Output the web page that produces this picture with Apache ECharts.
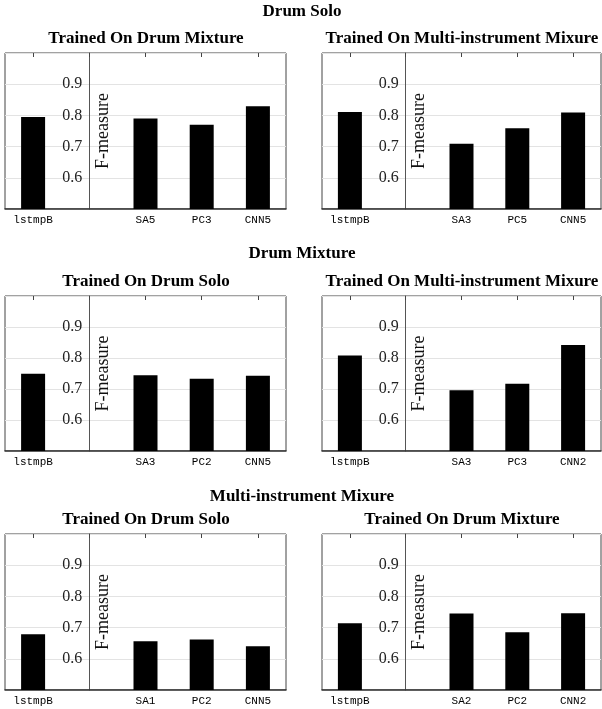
<!DOCTYPE html>
<html>
<head>
<meta charset="utf-8">
<script src="https://cdn.jsdelivr.net/npm/echarts@6/dist/echarts.min.js"></script>
<style>
  html, body { margin: 0; padding: 0; background: #fff; }
  #main { width: 602px; height: 709px; }
</style>
</head>
<body>
<div id="main"></div>
<script>
// data
var groupTitles = ['Drum Solo', 'Drum Mixture', 'Multi-instrument Mixure'];
var panelTitles = [
  'Trained On Drum Mixture', 'Trained On Multi-instrument Mixure',
  'Trained On Drum Solo', 'Trained On Multi-instrument Mixure',
  'Trained On Drum Solo', 'Trained On Drum Mixture'
];
var catsSoloOnMix   = ['lstmpB', '', 'SA5', 'PC3', 'CNN5'];
var catsSoloOnMulti = ['lstmpB', '', 'SA3', 'PC5', 'CNN5'];
var catsMixOnSolo   = ['lstmpB', '', 'SA3', 'PC2', 'CNN5'];
var catsMixOnMulti  = ['lstmpB', '', 'SA3', 'PC3', 'CNN2'];
var catsMultiOnSolo = ['lstmpB', '', 'SA1', 'PC2', 'CNN5'];
var catsMultiOnMix  = ['lstmpB', '', 'SA2', 'PC2', 'CNN2'];

var valsSoloOnMix   = [0.795, null, 0.790, 0.770, 0.829];
var valsSoloOnMulti = [0.811, null, 0.709, 0.759, 0.809];
var valsMixOnSolo   = [0.749, null, 0.744, 0.733, 0.743];
var valsMixOnMulti  = [0.808, null, 0.696, 0.717, 0.842];
var valsMultiOnSolo = [0.679, null, 0.656, 0.662, 0.640];
var valsMultiOnMix  = [0.714, null, 0.745, 0.685, 0.746];

var yTickLabels = ['0.6', '0.7', '0.8', '0.9'];

var panelCats = [catsSoloOnMix, catsSoloOnMulti, catsMixOnSolo, catsMixOnMulti, catsMultiOnSolo, catsMultiOnMix];
var panelVals = [valsSoloOnMix, valsSoloOnMulti, valsMixOnSolo, valsMixOnMulti, valsMultiOnSolo, valsMultiOnMix];

var chart = echarts.init(document.getElementById('main'));

var rowTop = [53, 296, 534];
var rowH = [156, 155, 156];
var colLeft = [5, 322];
var colW = [281, 279];
var groupY = [12, 254, 497];
var subY = [39, 282, 520];
var subX = [146, 462];

var serif = '"Liberation Serif", "DejaVu Serif", serif';
var mono = '"Liberation Mono", "DejaVu Sans Mono", monospace';

var grids = [], xAxes = [], yAxes = [], series = [], texts = [];

for (var r = 0; r < 3; r++) {
  texts.push({
    type: 'text', x: 302, y: groupY[r],
    style: { text: groupTitles[r], font: 'bold 17px ' + serif, fill: '#000', textAlign: 'center', textVerticalAlign: 'middle' }
  });
  for (var c = 0; c < 2; c++) {
    var i = r * 2 + c;
    texts.push({
      type: 'text', x: subX[c], y: subY[r],
      style: { text: panelTitles[i], font: 'bold 17px ' + serif, fill: '#000', textAlign: 'center', textVerticalAlign: 'middle' }
    });
    grids.push({
      left: colLeft[c], top: rowTop[r], width: colW[c], height: rowH[r],
      show: true, borderColor: '#444', borderWidth: 1, backgroundColor: 'transparent'
    });
    // bottom category axis with labels
    xAxes.push({
      type: 'category', gridIndex: i, position: 'bottom', data: panelCats[i],
      axisLine: { lineStyle: { color: '#333', width: 1.5 } },
      axisTick: { show: false },
      axisLabel: { color: '#000', fontFamily: mono, fontSize: 11, margin: 6, interval: 0 },
      splitLine: { show: false }
    });
    // top axis only for inward ticks
    xAxes.push({
      type: 'category', gridIndex: i, position: 'top', data: panelCats[i],
      axisLine: { show: false },
      axisTick: { show: true, inside: true, alignWithLabel: true, length: 4, lineStyle: { color: '#444' } },
      axisLabel: { show: false }
    });
    yAxes.push({
      type: 'value', gridIndex: i, min: 0.5, max: 1.0, interval: 0.1,
      offset: -(colW[c] / 5) * 1.5,
      name: 'F-measure', nameLocation: 'middle', nameRotate: 90, nameGap: -23,
      nameTextStyle: { fontFamily: serif, fontSize: 18, color: '#111' },
      axisLine: { show: true, lineStyle: { color: '#555', width: 1 } },
      axisTick: { show: false },
      axisLabel: {
        fontFamily: serif, fontSize: 16, color: '#222', margin: 7,
        showMinLabel: false, showMaxLabel: false,
        formatter: function (v) {
          var s = v.toFixed(1);
          return yTickLabels.indexOf(s) >= 0 ? s : '';
        }
      },
      splitLine: { show: true, lineStyle: { color: '#e3e3e3', width: 1 } }
    });
    series.push({
      type: 'bar', xAxisIndex: i * 2, yAxisIndex: i,
      data: panelVals[i], barWidth: 24,
      itemStyle: { color: '#000' },
      silent: true
    });
  }
}

var option = {
  backgroundColor: '#fff',
  animation: false,
  grid: grids,
  xAxis: xAxes,
  yAxis: yAxes,
  series: series,
  graphic: texts
};
chart.setOption(option);
</script>
</body>
</html>
